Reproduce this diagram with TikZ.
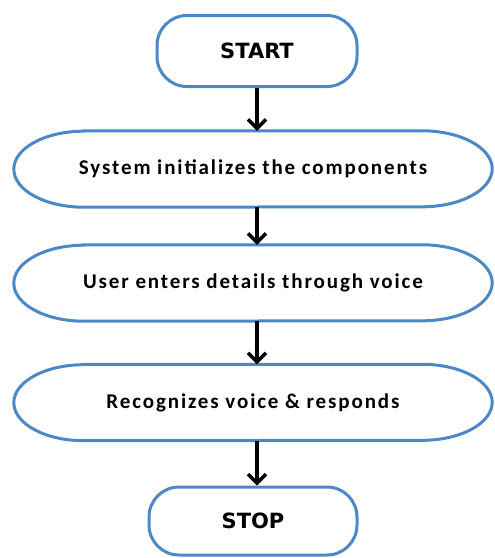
\documentclass[tikz,border=0pt]{standalone}
\usepackage{fontspec}
\setmainfont{Carlito}
\newfontfamily\termfont{DejaVu Sans}
\newfontfamily\stepfont[LetterSpace=9]{Carlito}
\usetikzlibrary{arrows.meta,calc}
\definecolor{flowblue}{HTML}{4A88C8}
\tikzset{
  term/.style={draw=flowblue, line width=3pt, rounded corners=30pt, minimum width=200pt, minimum height=71pt, inner sep=0pt, font=\termfont\bfseries\fontsize{21}{24}\selectfont},
  stepbox/.style={minimum width=478pt, minimum height=76pt, inner sep=0pt, font=\stepfont\bfseries\fontsize{21}{24}\selectfont},
  capsule/.style={draw=flowblue, line width=3pt},
  arr/.style={line width=3.4pt, -{Straight Barb[length=9pt,width=18pt,line width=3.4pt]}}
}
\newcommand\capsuleline[1]{%
  \draw[capsule] ($(#1.north west)+(70,0)$) -- ($(#1.north east)+(-70,0)$)
    arc[start angle=-90, end angle=90, x radius=70, y radius=38]
    -- ($(#1.south west)+(70,0)$)
    arc[start angle=90, end angle=270, x radius=70, y radius=38] -- cycle;}
\begin{document}
\begin{tikzpicture}[x=1pt,y=-1pt]
\useasboundingbox (0,0) rectangle (495,558);
\node[term] (start) at (257,51) {START};
\node[stepbox] (s1) at (253,169) {System initializes the components};
\node[stepbox] (s2) at (253,283) {User enters details through voice};
\node[stepbox] (s3) at (253,402.5) {Recognizes voice \& responds};
\capsuleline{s1}
\capsuleline{s2}
\capsuleline{s3}
\node[term, minimum width=208pt, minimum height=68pt] (stop) at (253,521) {STOP};
\draw[arr] (start.south) -- (start.south |- s1.north);
\draw[arr] (s1.south -| start.south) -- (start.south |- s2.north);
\draw[arr] (s2.south -| start.south) -- (start.south |- s3.north);
\draw[arr] (s3.south -| start.south) -- (start.south |- stop.north);
\end{tikzpicture}
\end{document}
